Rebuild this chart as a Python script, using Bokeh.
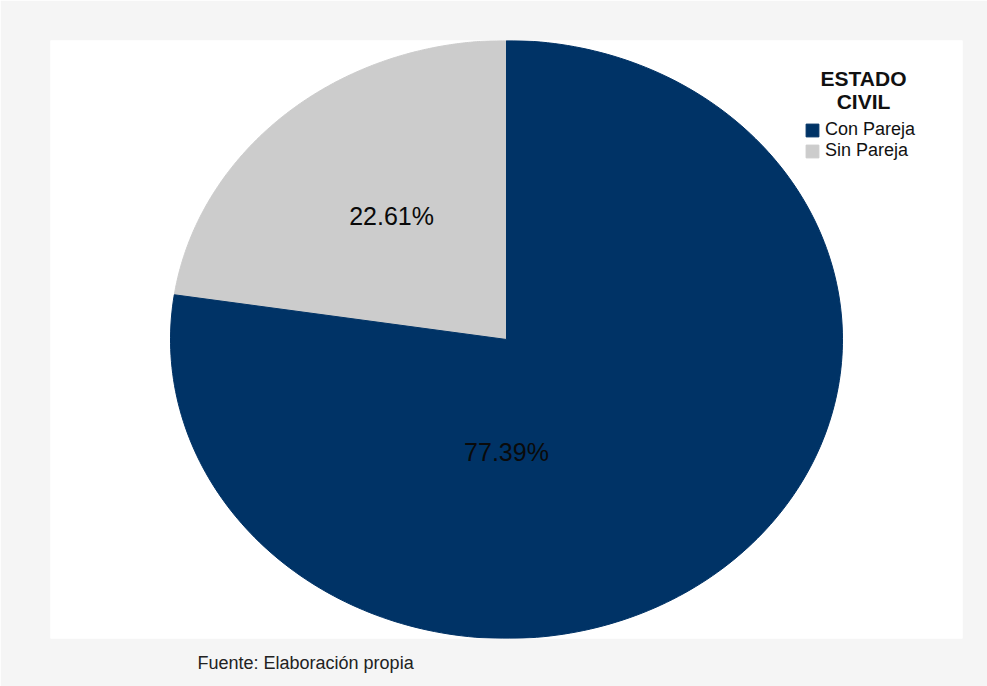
import numpy as np
from bokeh.plotting import figure
from bokeh.models import Range1d, Label, Legend, LegendItem, Title
from bokeh.embed import file_html
from bokeh.resources import INLINE
from bokeh.core.properties import value

# ---- data ----
categories = ["Con Pareja", "Sin Pareja"]
percentages = [77.39, 22.61]
colors = ["#003366", "#cccccc"]
draw_order = [1, 0]            # slices counter-clockwise from 12 o'clock
legend_title = ["ESTADO", "CIVIL"]
source_note = "Fuente: Elaboración propia"

# ---- layout constants ----
W, H = 987, 686
FONT = "Liberation Sans"
label_pos = {"Con Pareja": (0.0, -0.375), "Sin Pareja": (-0.342, 0.412)}

p = figure(width=W, height=H, output_backend="svg", toolbar_location=None,
           x_range=Range1d(-456 / 336, 456 / 336), y_range=Range1d(-1, 1),
           x_axis_location=None, y_axis_location=None,
           min_border_left=50, min_border_right=25, min_border_top=40, min_border_bottom=48)
p.grid.visible = False
p.outline_line_color = None
p.background_fill_color = "white"
p.border_fill_color = "#f5f5f5"

renderers = {}
start = np.pi / 2
for i in draw_order:
    span = 2 * np.pi * percentages[i] / 100.0
    t = np.linspace(start, start + span, 240)
    xs = np.concatenate([[0.0], np.cos(t), [0.0]])
    ys = np.concatenate([[0.0], np.sin(t), [0.0]])
    renderers[categories[i]] = p.patch(xs, ys, fill_color=colors[i], line_color=colors[i], line_width=1)
    start += span

for i, c in enumerate(categories):
    lx, ly = label_pos[c]
    p.text(x=[lx], y=[ly], text=[f"{percentages[i]:.2f}%"], text_align="center",
           text_baseline="middle", text_font=value(FONT), text_font_size="25px", text_color="#0a0a0a")

legend = Legend(items=[LegendItem(label=c, renderers=[renderers[c]]) for c in categories],
                location=(754, 477), glyph_width=16, glyph_height=16, label_height=16,
                label_text_font=FONT, label_text_font_size="18px", label_text_color="#111111",
                spacing=-3, padding=0, margin=0, label_standoff=5,
                border_line_color=None, background_fill_alpha=0)
p.add_layout(legend)

for k, (txt, yy) in enumerate(zip(legend_title, [560, 537.5])):
    p.add_layout(Label(x=813, y=yy, x_units="screen", y_units="screen", text=txt,
                       text_align="center", text_baseline="middle", text_font=FONT,
                       text_font_size="21px", text_font_style="bold", text_color="#111111"))

p.add_layout(Title(text=source_note, align="left", offset=147, text_font=FONT,
                   text_font_size="18px", text_font_style="normal", text_color="#222222",
                   standoff=25), "below")

open("out.html", "w").write(file_html(p, INLINE))
